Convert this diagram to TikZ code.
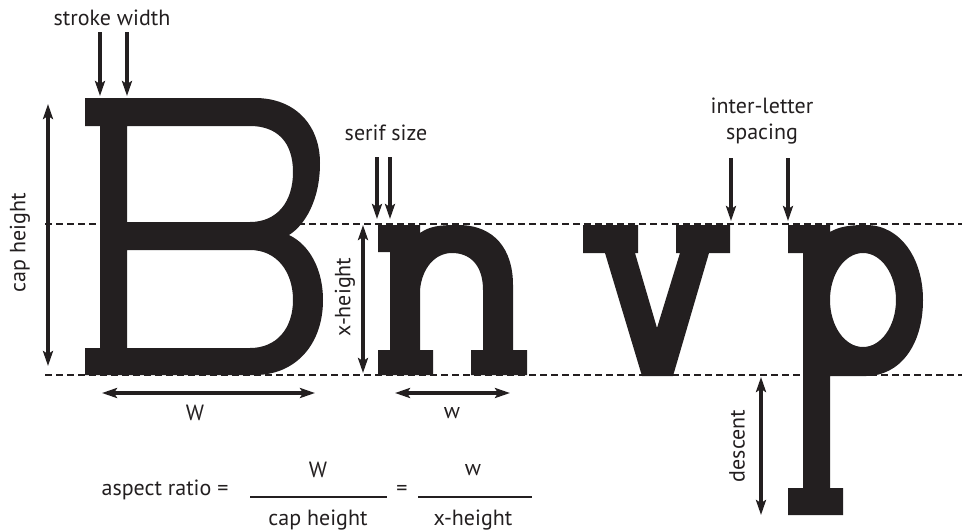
\documentclass[tikz,border=0pt]{standalone}
\usepackage{fontspec}
\setmainfont{PT Sans}
\usetikzlibrary{arrows.meta}
\definecolor{ink}{RGB}{35,31,32}
\begin{document}
\begin{tikzpicture}[x=1pt,y=-1pt,
  lbl/.style={font=\fontsize{22}{27}\selectfont, text=ink, inner sep=0pt},
  ptr/.style={draw=ink, line width=3.3pt, -{Stealth[length=15pt,width=10pt,inset=3pt]}},
  dimarrow/.style={draw=ink, line width=3.3pt, {Stealth[length=15pt,width=10pt,inset=3pt]}-{Stealth[length=15pt,width=10pt,inset=3pt]}},
  guide/.style={draw=ink, line width=1.3pt, dash pattern=on 7pt off 4pt},
  glyph/.style={fill=ink, even odd rule},
  fracline/.style={draw=ink, line width=1.6pt}]
\useasboundingbox (0,0) rectangle (962,531);

% guide lines
\coordinate (gxl) at (45,224); \coordinate (gxr) at (962,224);
\coordinate (gbl) at (45,375); \coordinate (gbr) at (962,375);
\draw[guide] (gxl) -- (gxr);
\draw[guide] (gbl) -- (gbr);

% letter B
\fill[glyph] (85,98) -- (255,98) .. controls (295,98) and (320,125) .. (320,163)
  .. controls (320,200) and (305,225) .. (289,235)
  .. controls (310,245) and (323,270) .. (323,300)
  .. controls (323,345) and (295,375) .. (255,375) -- (85,375) -- (85,348) -- (100,348)
  -- (100,126) -- (85,126) -- cycle
  (127,126) -- (250,126) .. controls (277,126) and (293,142) .. (293,172)
  .. controls (293,202) and (277,222) .. (250,222) -- (127,222) -- cycle
  (127,250) -- (250,250) .. controls (277,250) and (293,272) .. (293,300)
  .. controls (293,328) and (277,348) .. (250,348) -- (127,348) -- cycle;

% letter n
\fill[glyph] (378,225) -- (420,225) -- (420,233) .. controls (430,226) and (440,225) .. (458,225)
  .. controls (495,225) and (513,250) .. (513,285) -- (513,350) -- (527,350) -- (527,375)
  -- (471,375) -- (471,350) -- (483,350) -- (483,290) .. controls (483,265) and (470,253) .. (452,253)
  .. controls (435,253) and (422,268) .. (420,290) -- (420,350) -- (433,350) -- (433,375)
  -- (378,375) -- (378,350) -- (390,350) -- (390,252) -- (378,252) -- cycle;

% letter v
\fill[glyph] (583,225) -- (638,225) -- (638,253) -- (635,253) -- (657,328) -- (680,253)
  -- (676,253) -- (676,225) -- (730,225) -- (730,253) -- (709,253) -- (673,376)
  -- (642,376) -- (605,253) -- (583,253) -- cycle;

% letter p
\fill[glyph] (788,225) -- (830,225) -- (830,232) .. controls (840,226) and (852,225) .. (866,225)
  .. controls (900,225) and (923,258) .. (923,300) .. controls (923,345) and (900,376) .. (866,376)
  -- (830,376) -- (830,488) -- (843,488) -- (843,515) -- (788,515) -- (788,488) -- (803,488)
  -- (803,253) -- (788,253) -- cycle
  (863,300) ellipse [x radius=33pt, y radius=47pt];

% stroke width
\node[lbl] (sw) at (112,18) {stroke width};
\coordinate (sw1a) at (100,32); \coordinate (sw1b) at (100,96);
\coordinate (sw2a) at (127,32); \coordinate (sw2b) at (127,96);
\draw[ptr] (sw1a) -- (sw1b);
\draw[ptr] (sw2a) -- (sw2b);

% serif size
\node[lbl] (ss) at (386,133) {serif size};
\coordinate (ss1a) at (377,157); \coordinate (ss1b) at (377,219);
\coordinate (ss2a) at (390,157); \coordinate (ss2b) at (390,219);
\draw[ptr] (ss1a) -- (ss1b);
\draw[ptr] (ss2a) -- (ss2b);

% inter-letter spacing
\node[lbl, align=center] (ils) at (762,121) {inter-letter\\[-1pt]spacing};
\coordinate (il1a) at (731,158); \coordinate (il1b) at (731,221);
\coordinate (il2a) at (788,158); \coordinate (il2b) at (788,221);
\draw[ptr] (il1a) -- (il1b);
\draw[ptr] (il2a) -- (il2b);

% cap height
\node[lbl, rotate=90] (ch) at (20,243) {cap height};
\coordinate (cha) at (48,104); \coordinate (chb) at (48,366);
\draw[dimarrow] (cha) -- (chb);

% x-height
\node[lbl, rotate=90] (xh) at (345,297) {x-height};
\coordinate (xha) at (363,225); \coordinate (xhb) at (363,373);
\draw[dimarrow] (xha) -- (xhb);

% descent
\node[lbl, rotate=90] (ds) at (737,446) {descent};
\coordinate (dsa) at (761,377); \coordinate (dsb) at (761,515);
\draw[dimarrow] (dsa) -- (dsb);

% widths
\coordinate (Wa) at (102,393); \coordinate (Wb) at (315,393);
\draw[dimarrow] (Wa) -- (Wb);
\node[lbl] (Wl) at (195,413) {W};
\coordinate (wa) at (395,393); \coordinate (wb) at (510,393);
\draw[dimarrow] (wa) -- (wb);
\node[lbl] (wl) at (452,413) {w};

% formula
\node[lbl] (ar) at (165,490) {aspect ratio =};
\coordinate (f1a) at (250,497); \coordinate (f1b) at (387,497);
\draw[fracline] (f1a) -- (f1b);
\node[lbl] (f1n) at (318,470) {W};
\node[lbl] (f1d) at (318,520) {cap height};
\node[lbl] (eq) at (402,490) {=};
\coordinate (f2a) at (418,497); \coordinate (f2b) at (532,497);
\draw[fracline] (f2a) -- (f2b);
\node[lbl] (f2n) at (473,470) {w};
\node[lbl] (f2d) at (473,520) {x-height};
\end{tikzpicture}
\end{document}
